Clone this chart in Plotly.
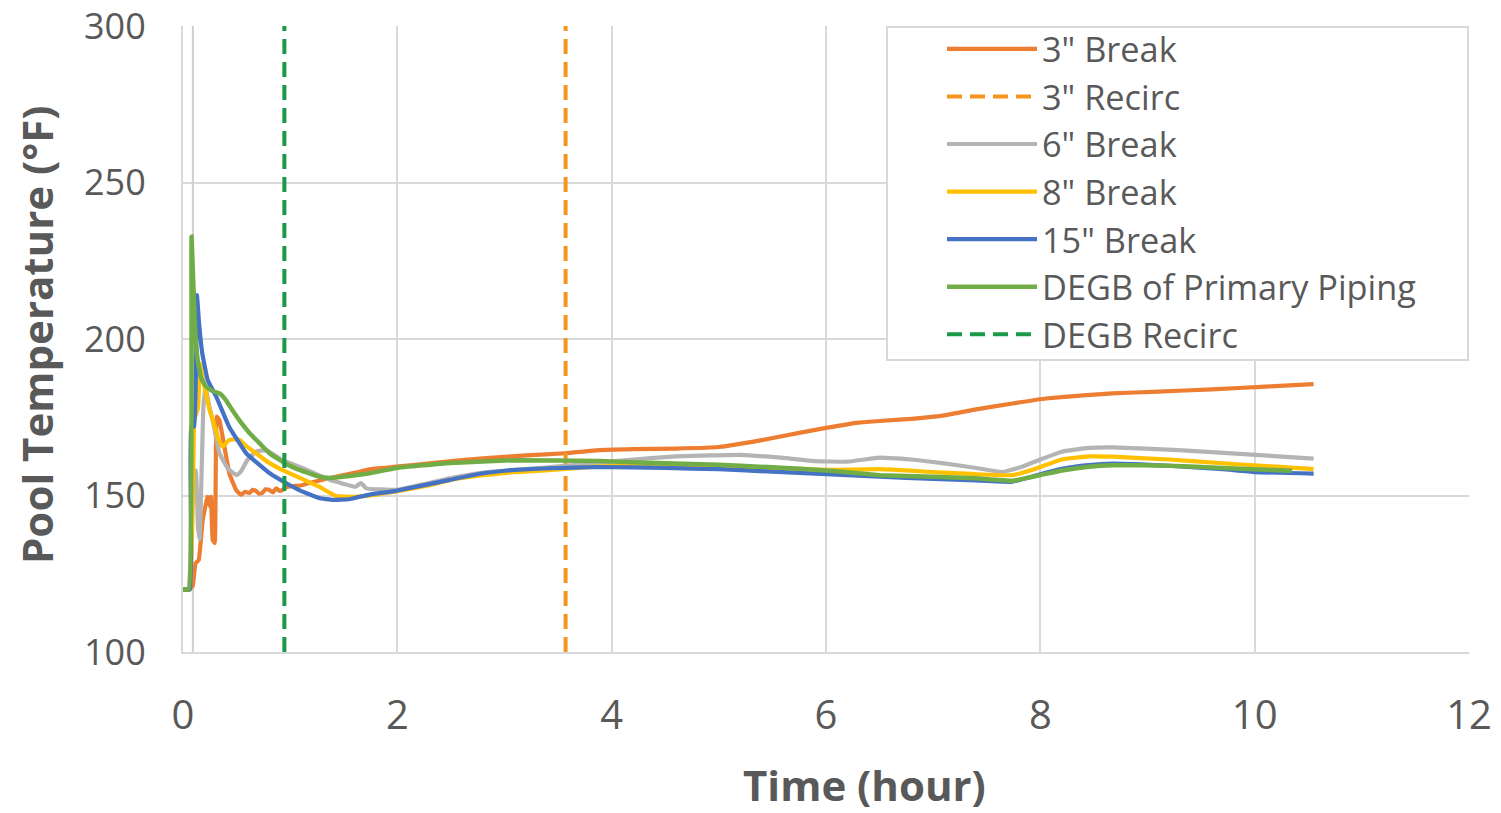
import plotly.graph_objects as go

# ---------------- data ----------------
t_3in = [0, 0.05, 0.09, 0.116, 0.147, 0.184, 0.23, 0.253, 0.262, 0.277, 0.296, 0.315, 0.34,
         0.386, 0.433, 0.495, 0.54, 0.58, 0.62, 0.65, 0.68, 0.71, 0.74, 0.77, 0.806, 0.84, 0.87,
         0.9, 0.93, 0.96, 1.02, 1.1, 1.18, 1.37, 1.61, 1.74, 1.99, 2.3, 2.8, 3.2, 3.57, 3.88,
         4.2, 4.6, 5.0, 5.4, 5.75, 6.0, 6.3, 6.5, 6.8, 7.12, 7.4, 7.74, 8.05, 8.4, 8.67, 9.1,
         9.6, 10.1, 10.55]
v_3in = [120, 120, 121, 128.3, 129.4, 142.2, 149.6, 146.4, 149.6, 135.8, 134.8, 175.2, 174,
         165.6, 157, 151.8, 150.2, 151.2, 150.8, 151.8, 151.5, 150.6, 150.8, 152.0, 151.8, 151.0, 152.3,
         151.5, 151.8, 152.6, 153, 153.2, 154, 155.6, 157.3, 158.4, 159.2, 160.3, 161.9, 162.8, 163.5, 164.5,
         164.8, 165.0, 165.5, 167.7, 170, 171.6, 173.3, 173.8, 174.5, 175.7, 177.5, 179.4, 181, 182, 182.6, 183.2,
         183.9, 184.8, 185.6]

t_6in = [0, 0.05, 0.07, 0.085, 0.1, 0.12, 0.14, 0.155, 0.19, 0.209, 0.246, 0.277, 0.34, 0.417,
         0.5, 0.54, 0.6, 0.68, 0.775, 0.93, 1.12, 1.37, 1.61, 1.66, 1.71, 1.99, 2.49, 2.8, 3.4,
         3.88, 4.2, 4.6, 5.2, 5.6, 5.9, 6.2, 6.5, 6.8, 7.12, 7.4, 7.65, 7.83, 8.0, 8.2, 8.45,
         8.67, 9.29, 9.9, 10.55]
v_6in = [120, 120, 130, 161, 156, 158, 140, 136, 178, 184.8, 178.4, 174, 163.5, 158.7,
         156.5, 157.6, 161.3, 164, 164.5, 161.3, 158.7, 155, 152.8, 154, 152.3, 151.8, 155.5, 157.3, 159,
         160.5, 161.5, 162.5, 163, 162, 161, 160.8, 162.1, 161.5, 160.2, 158.8, 157.5, 159.2, 161.5, 164, 165.2,
         165.4, 164.5, 163.2, 161.8]

t_8in = [0, 0.06, 0.095, 0.105, 0.14, 0.16, 0.18, 0.215, 0.25, 0.28, 0.33, 0.37, 0.43, 0.5,
         0.53, 0.6, 0.68, 0.8, 0.93, 1.1, 1.27, 1.43, 1.6, 1.8, 1.99, 2.3, 2.5, 2.8, 3.1, 3.42,
         3.88, 4.5, 5.0, 5.5, 6.0, 6.5, 7.0, 7.4, 7.74, 7.95, 8.2, 8.45, 8.67, 9.2, 9.7, 10.2, 10.55]
v_8in = [120, 120, 156, 174, 178, 192, 188, 182.6, 177, 174, 168, 165.6, 167.7, 168,
         167.7, 165.5, 163.5, 160.5, 158.1, 155.5, 152.8, 149.8, 149.6, 150.3, 151.3, 153.3, 155, 156.5, 157.5, 158.1,
         159.3, 159.5, 159.2, 158.8, 158.2, 158.4, 157.5, 156.8, 156.5, 158.5, 161.5, 162.5, 162.4, 161.5, 160.3, 159.2, 158.4]

t_15in = [0, 0.065, 0.075, 0.105, 0.13, 0.15, 0.18, 0.23, 0.31, 0.43, 0.59, 0.81, 0.96, 1.1,
          1.27, 1.4, 1.55, 1.74, 1.99, 2.49, 2.8, 3.1, 3.42, 3.88, 4.5, 5.0, 5.5, 6.0, 6.5,
          7.0, 7.4, 7.74, 8.0, 8.2, 8.45, 8.67, 9.2, 9.7, 10.0, 10.55]
v_15in = [120, 120, 172, 172, 214, 205, 195.4, 186.9, 181.6, 172, 163.5, 157.1, 154, 151.5,
          149.2, 148.6, 148.8, 150.3, 151.5, 155, 157.1, 158.2, 158.7, 159.1, 158.8, 158.4, 157.6, 156.8, 156,
          155.3, 154.8, 154.4, 156.8, 158.5, 159.7, 160.2, 159.5, 158.4, 157.5, 157.0]

t_degb = [0, 0.055, 0.08, 0.11, 0.137, 0.17, 0.215, 0.28, 0.34, 0.4, 0.46, 0.526, 0.62, 0.72,
          0.806, 0.946, 1.1, 1.27, 1.37, 1.49, 1.74, 1.99, 2.49, 3.11, 3.88, 4.5, 5.0, 5.5, 6.0,
          6.5, 7.0, 7.4, 7.74, 8.0, 8.2, 8.45, 8.67, 9.2, 9.7, 10.35]
v_degb = [120, 120, 232.7, 205, 193.3, 187.5, 184.8, 183.3, 182.6, 180.5, 177.3, 174, 170, 166.5,
          163.5, 160.4, 158, 156, 155.6, 156, 157.1, 158.8, 160.4, 161.3, 161, 160.3, 159.8, 159.0, 158,
          156.5, 156, 155.5, 154.7, 156.5, 158, 159.2, 159.7, 159.5, 158.8, 157.9]

recirc_3in_t = 3.57
recirc_degb_t = 0.946
marker_line_t = 0.092
y_range = [100, 300]

x_ticks = [0, 2, 4, 6, 8, 10, 12]
y_ticks = [100, 150, 200, 250, 300]

# ---------------- figure ----------------
fig = go.Figure()

def line(x, y, name, color, dash="solid", width=4.2, show=True):
    fig.add_trace(go.Scatter(x=x, y=y, mode="lines", name=name, showlegend=show,
                             line=dict(color=color, width=width, dash=dash, shape="spline",
                                       smoothing=0.3),
                             hoverinfo="skip"))

# thin light vertical line near t=0
fig.add_trace(go.Scatter(x=[marker_line_t, marker_line_t], y=y_range, mode="lines",
                         line=dict(color="#cfcfcf", width=2), showlegend=False, hoverinfo="skip"))

line(t_3in, v_3in, '3" Break', "#ED7D31")
fig.add_trace(go.Scatter(x=[recirc_3in_t, recirc_3in_t], y=y_range, mode="lines", name='3" Recirc',
                         line=dict(color="#F7941D", width=4, dash="15px,8px"), hoverinfo="skip"))
line(t_6in, v_6in, '6" Break', "#B4B4B4")
line(t_8in, v_8in, '8" Break', "#FFC000")
line(t_15in, v_15in, '15" Break', "#4472C4")
line(t_degb, v_degb, "DEGB of Primary Piping", "#70AD47", width=4.5)
fig.add_trace(go.Scatter(x=[recirc_degb_t, recirc_degb_t], y=y_range, mode="lines", name="DEGB Recirc",
                         line=dict(color="#1A9A48", width=4, dash="15px,8px"), hoverinfo="skip"))

grid = "#D9D9D9"
txt = "#595959"
L, R, T, B = 183, 1469, 26, 652
W, H = R - L, B - T

def px(xp):
    return (xp - L) / W

def py(yp):
    return (B - yp) / H

fig.update_layout(
    width=1501, height=813,
    margin=dict(l=L, r=1501 - R, t=T, b=813 - B, autoexpand=False),
    paper_bgcolor="white", plot_bgcolor="white",
    font=dict(family="Open Sans", color=txt),
    xaxis=dict(range=[0, 12], tickvals=x_ticks, showgrid=True, gridcolor=grid, gridwidth=2,
               showline=True, linecolor=grid, linewidth=2, zeroline=False,
               tickfont=dict(size=40, color=txt, family="Open Sans"), ticklabelstandoff=27,
               ticklabeloverflow="allow"),
    yaxis=dict(range=y_range, tickvals=y_ticks, showgrid=True, gridcolor=grid, gridwidth=2,
               showline=True, linecolor=grid, linewidth=2, zeroline=False,
               tickfont=dict(size=36, color=txt, family="Open Sans"), ticklabelstandoff=28,
               ticklabeloverflow="allow"),
    legend=dict(x=px(942), y=py(20), xanchor="left", yanchor="top", bgcolor="rgba(0,0,0,0)",
                borderwidth=0, itemwidth=90,
                font=dict(size=34.3, color=txt, family="Open Sans")),
    shapes=[dict(type="rect", xref="paper", yref="paper", x0=px(887), x1=px(1468),
                 y0=py(360), y1=py(27), fillcolor="white", line=dict(color=grid, width=2),
                 layer="above")],
    annotations=[
        dict(text="<b>Time (hour)</b>", xref="paper", yref="paper", x=px(864),
             y=py(784), xanchor="center", yanchor="middle", showarrow=False,
             font=dict(size=42, color=txt, family="Open Sans")),
        dict(text="<b>Pool Temperature (°F)</b>", xref="paper", yref="paper",
             x=px(36), y=py(335), xanchor="center", yanchor="middle",
             textangle=-90, showarrow=False, font=dict(size=42, color=txt, family="Open Sans")),
    ],
)

fig.write_html("out.html")
